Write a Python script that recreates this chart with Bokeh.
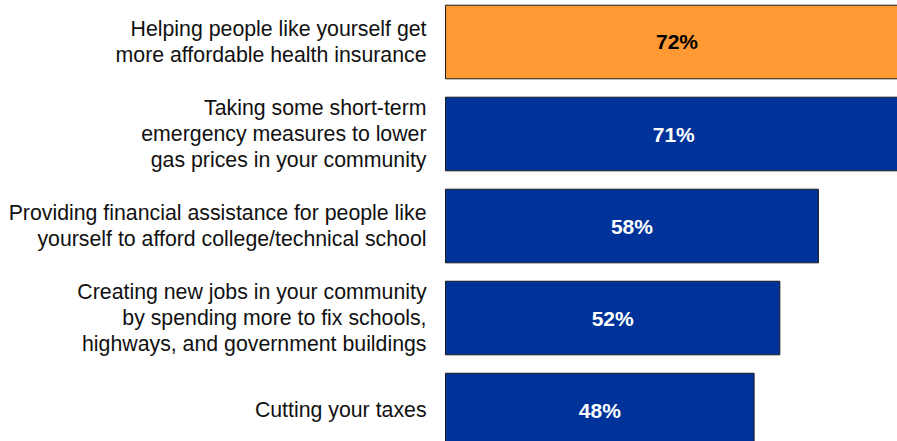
from bokeh.plotting import figure
from bokeh.models import ColumnDataSource, Range1d
from bokeh.core.properties import value
from bokeh.embed import file_html
from bokeh.resources import INLINE

categories = [
    "Helping people like yourself get\nmore affordable health insurance",
    "Taking some short-term\nemergency measures to lower\ngas prices in your community",
    "Providing financial assistance for people like\nyourself to afford college/technical school",
    "Creating new jobs in your community\nby spending more to fix schools,\nhighways, and government buildings",
    "Cutting your taxes",
]
values = [72, 71, 58, 52, 48]
bar_colors = ["#FF9933", "#003399", "#003399", "#003399", "#003399"]
label_colors = ["#000000", "#FFFFFF", "#FFFFFF", "#FFFFFF", "#FFFFFF"]

pos = list(range(len(categories)))
src = ColumnDataSource(dict(
    y=pos,
    v=values,
    mid=[v / 2 for v in values],
    cat=categories,
    lbl=[f"{v}%" for v in values],
    color=bar_colors,
    lcolor=label_colors,
    tx=[-2.95] * len(values),
))

p = figure(width=897, height=441, output_backend="svg", toolbar_location=None,
           x_range=Range1d(-69.21, 70.30), y_range=Range1d(4.342, -0.451),
           min_border=0)
p.axis.visible = False
p.grid.visible = False
p.outline_line_color = None
p.background_fill_color = "white"
p.border_fill_color = "white"

p.hbar(y="y", left=0, right="v", height=0.8, source=src,
       fill_color="color", line_color="#1a1a1a", line_width=1)

p.text(x="mid", y="y", text="lbl", source=src, text_color="lcolor",
       text_font=value("Liberation Sans"), text_font_style="bold",
       text_font_size="21px", text_align="center", text_baseline="middle")

p.text(x="tx", y="y", text="cat", source=src, text_color="#111111",
       text_font=value("Liberation Sans"), text_font_size="21.3px",
       text_align="right", text_baseline="middle", text_line_height=1.07)

open("out.html", "w").write(file_html(p, INLINE))
